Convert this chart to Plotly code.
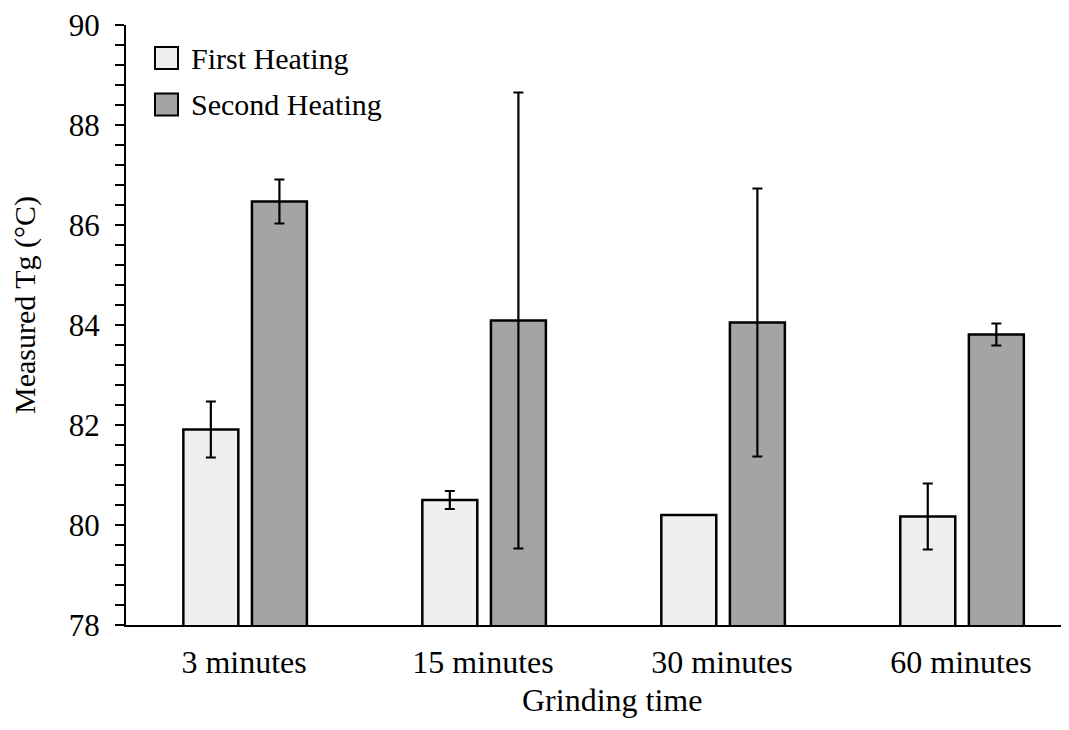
import plotly.graph_objects as go

categories = ["3 minutes", "15 minutes", "30 minutes", "60 minutes"]
first_heating = [81.91, 80.50, 80.20, 80.17]
first_err = [0.56, 0.18, 0.0, 0.66]
second_heating = [86.47, 84.09, 84.05, 83.81]
second_err = [0.44, 4.56, 2.68, 0.22]
y_ticks = [78, 80, 82, 84, 86, 88, 90]

FONT = "Liberation Serif"
FIRST_COLOR = "#efefef"
SECOND_COLOR = "#a4a4a4"
xpos = list(range(len(categories)))

# figure geometry (pixels)
W, H = 1061, 722
ML, MR, MT, MB = 118, 0, 17, 105
PW, PH = W - ML - MR, H - MT - MB


def px(x):
    return (x - ML) / PW


def py(y):
    return (H - MB - y) / PH


fig = go.Figure()
fig.add_trace(go.Bar(
    x=xpos, y=first_heating, name="First Heating",
    width=0.23, offset=-0.254, showlegend=False,
    marker=dict(color=FIRST_COLOR, line=dict(color="black", width=2.5)),
    error_y=dict(type="data", array=first_err, visible=True,
                 color="black", thickness=2.2, width=5),
))
fig.add_trace(go.Bar(
    x=xpos, y=second_heating, name="Second Heating",
    width=0.23, offset=0.033, showlegend=False,
    marker=dict(color=SECOND_COLOR, line=dict(color="black", width=2.5)),
    error_y=dict(type="data", array=second_err, visible=True,
                 color="black", thickness=2.2, width=5),
))

fig.update_layout(
    width=W, height=H,
    margin=dict(l=ML, r=MR, t=MT, b=MB),
    paper_bgcolor="white", plot_bgcolor="white",
    font=dict(family=FONT, color="black", size=31),
    showlegend=False,
    xaxis=dict(
        tickmode="array", tickvals=xpos, ticktext=categories,
        range=[-0.494, 3.452], showline=True, linecolor="black",
        linewidth=2, ticks="", showgrid=False, zeroline=False,
        tickfont=dict(family=FONT, size=32), ticklabelstandoff=8,
        ticklabeloverflow="allow",
    ),
    yaxis=dict(
        range=[78, 90], tickvals=y_ticks, showline=True, linecolor="black",
        linewidth=2, ticks="outside", ticklen=9, tickwidth=2,
        tickcolor="black", showgrid=False, zeroline=False,
        tickfont=dict(family=FONT, size=31), ticklabelstandoff=9,
        ticklabeloverflow="allow",
        minor=dict(dtick=0.4, ticks="outside", ticklen=9, tickwidth=2,
                   tickcolor="black", showgrid=False),
    ),
)

# axis titles
fig.add_annotation(text="Grinding time", xref="paper", yref="paper",
                   x=px(604), y=py(692), xanchor="center", yanchor="middle",
                   showarrow=False, font=dict(family=FONT, size=32))
fig.add_annotation(text="Measured Tg (°C)", xref="paper", yref="paper",
                   x=px(17), y=py(297), xanchor="center", yanchor="middle",
                   textangle=-90, showarrow=False,
                   font=dict(family=FONT, size=30))

# x axis line extension left of the y axis
fig.add_shape(type="line", xref="paper", yref="paper",
              x0=px(ML - 10), x1=0, y0=0, y1=0,
              line=dict(color="black", width=2))

# legend (drawn manually for large swatches)
legend_items = [(fig.data[0].name, FIRST_COLOR, 50),
                (fig.data[1].name, SECOND_COLOR, 96.5)]
for name, color, cy in legend_items:
    fig.add_shape(type="rect", xref="paper", yref="paper",
                  x0=px(147), x1=px(170), y0=py(cy - 11), y1=py(cy + 11),
                  fillcolor=color, line=dict(color="black", width=2))
    fig.add_annotation(text=name, xref="paper", yref="paper",
                       x=px(181), y=py(cy), xanchor="left", yanchor="middle",
                       showarrow=False, font=dict(family=FONT, size=30))

fig.write_html("out.html")
